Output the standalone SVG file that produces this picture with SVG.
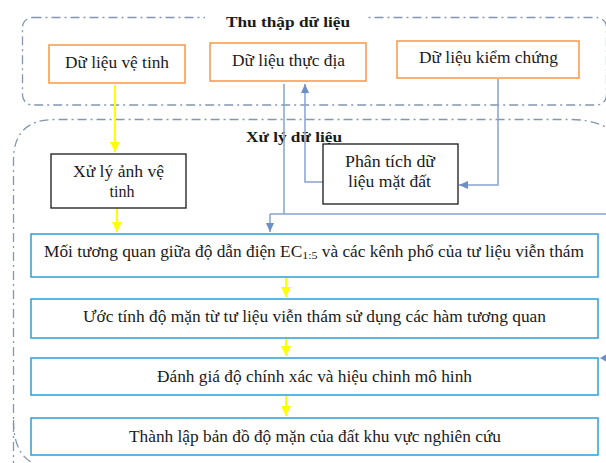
<svg xmlns="http://www.w3.org/2000/svg" width="606" height="463" viewBox="0 0 606 463">
<defs>
<style>
.frame{fill:none;stroke:#8496b0;stroke-width:1.3;stroke-dasharray:9 4 2 4}
.org{fill:#fff;stroke:#f79646;stroke-width:1.5}
.blk{fill:#fff;stroke:#1a1a1a;stroke-width:1.3}
.blu{fill:#fff;stroke:#2a9fd8;stroke-width:1.5}
.t{font-family:"Liberation Serif","Times New Roman",serif;font-size:16px;fill:#1a1a1a;text-anchor:middle}
.b{font-weight:bold;font-size:15px}
.ylw{fill:none;stroke:#ffff00;stroke-width:2}
.bl{fill:none;stroke:#86a3d2;stroke-width:1.5}
</style>
<marker id="ya" markerUnits="userSpaceOnUse" markerWidth="12" markerHeight="12" viewBox="0 0 12 12" refX="10" refY="6" orient="auto">
<path d="M0,1 L10,6 L0,11 Z" fill="#ffff00"/>
</marker>
<marker id="ba" markerUnits="userSpaceOnUse" markerWidth="10" markerHeight="10" viewBox="0 0 10 10" refX="9" refY="5" orient="auto">
<path d="M0,1 L9,5 L0,9 Z" fill="#6b8fc8"/>
</marker>
</defs>
<rect width="606" height="463" fill="#fff"/>
<g id="containers">
<rect class="frame" x="22.5" y="17.5" width="584" height="87.5" rx="10"/>
<rect x="205" y="8" width="160" height="20" fill="#fff"/>
<text class="t b" x="288" y="27" textLength="124" lengthAdjust="spacingAndGlyphs">Thu thập dữ liệu</text>
<path class="frame" d="M13.5,470 V160 Q13.5,119.5 55,119.5 H570 Q606,119.5 620,140"/>
<path class="frame" d="M13.5,420 Q13.5,463 45,466"/>
<text class="t b" x="294" y="142" textLength="96" lengthAdjust="spacingAndGlyphs">Xử lý dữ liệu</text>
</g>
<g id="connectors">
<path class="ylw" d="M115,85 V152" marker-end="url(#ya)"/>
<path class="ylw" d="M117,208 V232" marker-end="url(#ya)"/>
<path class="ylw" d="M286,277 V297" marker-end="url(#ya)"/>
<path class="ylw" d="M286,338 V356" marker-end="url(#ya)"/>
<path class="ylw" d="M286,395 V416" marker-end="url(#ya)"/>
<path class="bl" d="M284,84 V214"/>
<path class="bl" d="M270,214 H607"/>
<path class="bl" d="M270,214 V232" marker-end="url(#ba)"/>
<path class="bl" d="M323,182 H305 V84" marker-end="url(#ba)"/>
<path class="bl" d="M498,79 V185 H459" marker-end="url(#ba)"/>
<path d="M600,358 L607,354 L607,362 Z" fill="#6b8fc8"/>
</g>
<g id="n1"><rect class="org" x="49" y="45" width="136" height="38"/><text class="t" x="117" y="68" textLength="104" lengthAdjust="spacingAndGlyphs">Dữ liệu vệ tinh</text></g>
<g id="n2"><rect class="org" x="210" y="43" width="156" height="38"/><text class="t" x="288.5" y="66" textLength="113" lengthAdjust="spacingAndGlyphs">Dữ liệu thực địa</text></g>
<g id="n3"><rect class="org" x="397" y="41" width="182" height="37"/><text class="t" x="488.5" y="63" textLength="139" lengthAdjust="spacingAndGlyphs">Dữ liệu kiểm chứng</text></g>
<g id="n4"><rect class="blk" x="51" y="154" width="135" height="54"/><text class="t" x="118.5" y="177" textLength="91" lengthAdjust="spacingAndGlyphs">Xử lý ảnh vệ</text><text class="t" x="122" y="197">tinh</text></g>
<g id="n5"><rect class="blk" x="323" y="144" width="135" height="60"/><text class="t" x="390" y="167" textLength="90" lengthAdjust="spacingAndGlyphs">Phân tích dữ</text><text class="t" x="389.5" y="187" textLength="83" lengthAdjust="spacingAndGlyphs">liệu mặt đất</text></g>
<g id="n6"><rect class="blu" x="31" y="234" width="567" height="43"/><text class="t" x="314" y="257" textLength="540" lengthAdjust="spacingAndGlyphs">Mối tương quan giữa độ dẫn điện EC<tspan font-size="11" dy="2">1:5</tspan><tspan dy="-2"> và các kênh phổ của tư liệu viễn thám</tspan></text></g>
<g id="n7"><rect class="blu" x="31" y="299" width="567" height="39"/><text class="t" x="314.5" y="322" textLength="463" lengthAdjust="spacingAndGlyphs">Ước tính độ mặn từ tư liệu viễn thám sử dụng các hàm tương quan</text></g>
<g id="n8"><rect class="blu" x="31" y="358" width="567" height="37"/><text class="t" x="314.5" y="382" textLength="315" lengthAdjust="spacingAndGlyphs">Đánh giá độ chính xác và hiệu chinh mô hinh</text></g>
<g id="n9"><rect class="blu" x="31" y="418" width="567" height="37"/><text class="t" x="315" y="442" textLength="372" lengthAdjust="spacingAndGlyphs">Thành lập bản đồ độ mặn của đất khu vực nghiên cứu</text></g>
</svg>
